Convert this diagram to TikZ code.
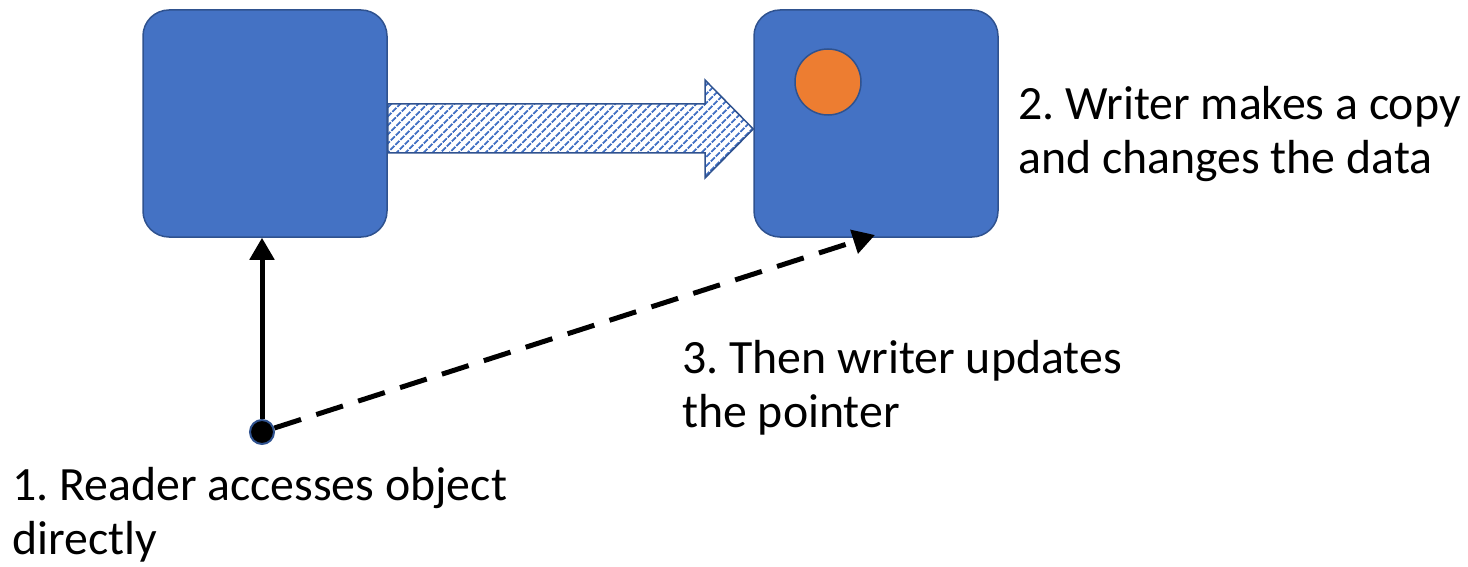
\documentclass[tikz,border=0pt]{standalone}
\usepackage{fontspec}
\setmainfont{Carlito}
\usetikzlibrary{arrows.meta,patterns.meta}
\definecolor{boxblue}{HTML}{4472C4}
\definecolor{edgeblue}{HTML}{2F528F}
\definecolor{dotorange}{HTML}{ED7D31}
\frenchspacing
\begin{document}
\begin{tikzpicture}[x=1pt,y=-1pt,
  objbox/.style={draw=edgeblue,line width=1.5pt,fill=boxblue,rounded corners=26pt,
    minimum width=244pt,minimum height=227pt,inner sep=0pt},
  label/.style={font=\fontsize{47.8}{54}\selectfont,align=left,anchor=base west,inner sep=0pt},
  ptr/.style={line width=5pt,-{Triangle[length=22pt,width=24pt]}}]
\useasboundingbox (0,0) rectangle (1468,567);
% old and new copies of the object
\node[objbox] (old) at (265,123.5) {};
\node[objbox] (new) at (876,123.5) {};
\node[circle,draw=edgeblue,line width=1.5pt,fill=dotorange,minimum size=66pt,inner sep=0pt] (data) at (828,82) {};
% copy arrow between the two objects
\draw[draw=edgeblue,line width=1.5pt,fill=white,
      pattern={Lines[angle=45,distance=6.5pt,line width=2.2pt]},pattern color=boxblue]
  (old.east |- 0,104) -- (705,104) -- (705,80) -- (new.west |- 0,129) -- (705,178) -- (705,153) -- (old.east |- 0,153) -- cycle;
% the pointer
\node[circle,draw=edgeblue,line width=2pt,fill=black,minimum size=24pt,inner sep=0pt] (p) at (262,432) {};
\coordinate (newtarget) at (875,235);
\draw[ptr] (p) -- (p |- old.south);
\draw[ptr,dash pattern=on 28pt off 16pt] (p) -- (newtarget);
% captions (anchored at the baseline of their last line)
\node[label] (t2) at (1018,174) {2. Writer makes a copy\\and changes the data};
\node[label] (t3) at (682,427) {3. Then writer updates\\the pointer};
\node[label] (t1) at (12,554) {1. Reader accesses object\\directly};
\end{tikzpicture}
\end{document}
